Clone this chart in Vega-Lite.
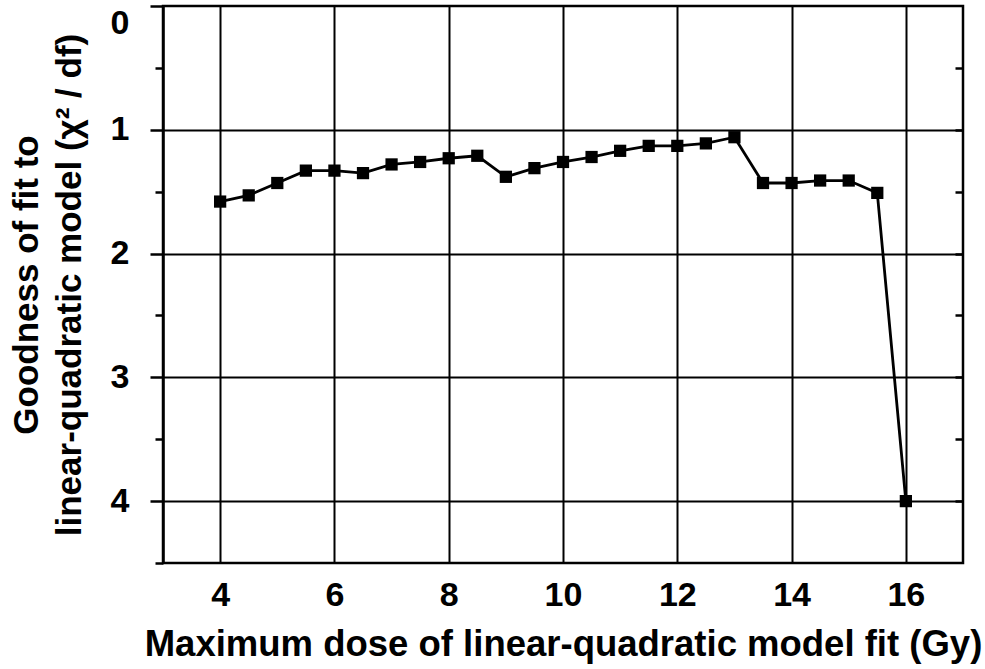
{
  "$schema": "https://vega.github.io/schema/vega-lite/v6.json",
  "width": 800,
  "height": 557,
  "autosize": "none",
  "padding": {"left": 163, "top": 6, "right": 22, "bottom": 106},
  "background": "white",
  "config": {
    "view": {"stroke": "black", "strokeWidth": 2.5},
    "font": "Liberation Sans",
    "axis": {
      "labelFont": "Liberation Sans",
      "titleFont": "Liberation Sans",
      "labelFontWeight": "bold",
      "titleFontWeight": "bold",
      "labelColor": "black",
      "titleColor": "black",
      "labelFontSize": 34,
      "titleFontSize": 36.5
    }
  },
  "data": {"values": [
    {"dose": 4, "gof": 1.58},
    {"dose": 4.5, "gof": 1.53},
    {"dose": 5, "gof": 1.43},
    {"dose": 5.5, "gof": 1.33},
    {"dose": 6, "gof": 1.33},
    {"dose": 6.5, "gof": 1.35},
    {"dose": 7, "gof": 1.28},
    {"dose": 7.5, "gof": 1.26},
    {"dose": 8, "gof": 1.23},
    {"dose": 8.5, "gof": 1.21},
    {"dose": 9, "gof": 1.38},
    {"dose": 9.5, "gof": 1.31},
    {"dose": 10, "gof": 1.26},
    {"dose": 10.5, "gof": 1.22},
    {"dose": 11, "gof": 1.17},
    {"dose": 11.5, "gof": 1.13},
    {"dose": 12, "gof": 1.13},
    {"dose": 12.5, "gof": 1.11},
    {"dose": 13, "gof": 1.06},
    {"dose": 13.5, "gof": 1.43},
    {"dose": 14, "gof": 1.43},
    {"dose": 14.5, "gof": 1.41},
    {"dose": 15, "gof": 1.41},
    {"dose": 15.5, "gof": 1.51},
    {"dose": 16, "gof": 4.0}
  ]},
  "layer": [
    {
      "mark": {"type": "line", "color": "black", "strokeWidth": 2.8},
      "encoding": {
        "x": {
          "field": "dose", "type": "quantitative",
          "scale": {"domain": [3, 17], "nice": false, "zero": false},
          "axis": {
            "values": [4, 6, 8, 10, 12, 14, 16],
            "format": "d",
            "grid": true, "gridColor": "black", "gridWidth": 2, "gridOpacity": 1,
            "ticks": false, "tickSize": 0, "domain": false,
            "labelPadding": 15,
            "title": "Maximum dose of linear-quadratic model fit (Gy)",
            "titlePadding": 14
          }
        },
        "y": {
          "field": "gof", "type": "quantitative",
          "scale": {"domain": [0, 4.5], "reverse": true, "nice": false},
          "axis": {
            "orient": "left",
            "values": [0, 0.5, 1, 1.5, 2, 2.5, 3, 3.5, 4, 4.5],
            "format": ".1f",
            "labelExpr": "datum.value % 1 === 0 ? format(datum.value, 'd') : ''",
            "labelFlush": true, "labelFlushOffset": 0,
            "grid": true, "gridColor": "black", "gridWidth": 2,
            "gridOpacity": {"condition": {"test": "datum.value % 1 !== 0 || datum.value === 0", "value": 0}, "value": 1},
            "ticks": true, "tickColor": "black", "tickWidth": 2.5,
            "tickSize": {"condition": {"test": "datum.value % 1 === 0", "value": 13}, "value": 8},
            "domain": true, "domainColor": "black", "domainWidth": 2.5,
            "labelPadding": 21,
            "title": ["Goodness of fit to", "linear-quadratic model (χ² / df)"],
            "titleFontSize": 35,
            "titleLineHeight": 43,
            "titlePadding": 23
          }
        }
      }
    },
    {
      "mark": {"type": "point", "shape": "square", "filled": true, "color": "black", "opacity": 1, "size": 150},
      "encoding": {
        "x": {"field": "dose", "type": "quantitative"},
        "y": {
          "field": "gof", "type": "quantitative",
          "axis": {
            "orient": "right",
            "values": [0.5, 1, 1.5, 2, 2.5, 3, 3.5, 4],
            "labels": false, "grid": false, "domain": false,
            "ticks": true, "tickSize": -8, "tickColor": "black", "tickWidth": 2.5,
            "title": null
          }
        }
      }
    }
  ],
  "resolve": {"axis": {"y": "independent"}}
}
